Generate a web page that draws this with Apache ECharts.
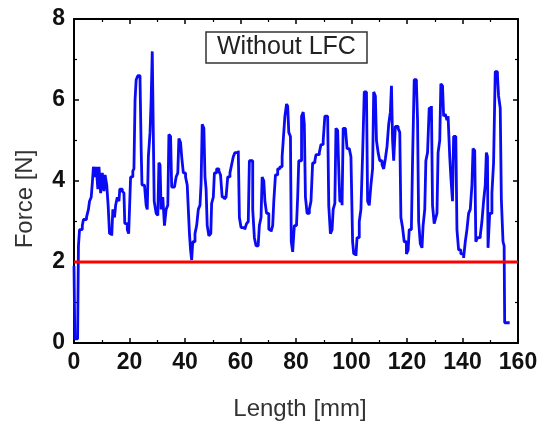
<!DOCTYPE html>
<html>
<head>
<meta charset="utf-8">
<script src="https://cdn.jsdelivr.net/npm/echarts@6/dist/echarts.min.js"></script>
<style>
html,body{margin:0;padding:0;background:#fff;}
#chart{width:539px;height:421px;}
</style>
</head>
<body>
<div id="chart"></div>
<script>
// Length positions (mm) of the measured force trace
const lengthMm = [
  0, 0.3, 1.3, 1.6, 2.0, 3.0, 3.4, 4.5, 5.2, 5.6, 6.2, 6.6, 7.0, 7.6, 8.0, 8.6, 9.0, 9.6, 10.2, 10.8,
  11.2, 11.8, 12.3, 12.8, 13.6, 14.0, 14.6, 15.0, 15.6, 16.2, 16.5, 17.4, 18.0, 18.3, 19.2, 19.7, 20.0, 20.4, 21.2, 21.6,
  22.0, 22.4, 23.0, 23.8, 24.2, 24.5, 25.4, 26.0, 26.4, 26.8, 27.4, 27.8, 28.2, 28.6, 28.9, 29.6, 30.2, 30.6, 31.0, 31.4,
  32.0, 32.6, 33.2, 33.8, 34.2, 34.8, 35.2, 36.2, 36.8, 37.4, 37.8, 38.4, 38.8, 39.4, 40.2, 40.8, 41.2, 41.6, 42.0, 42.4,
  42.8, 43.6, 44.2, 44.8, 45.4, 45.8, 46.2, 46.8, 47.2, 47.6, 48.0, 48.6, 49.3, 49.6, 50.2, 50.6, 51.4, 52.2, 52.8, 53.4,
  54.2, 54.8, 55.4, 56.2, 56.8, 57.4, 58.0, 59.2, 59.6, 60.2, 61.5, 62.2, 62.8, 63.2, 63.8, 64.4, 65.0, 65.6, 66.4, 66.8,
  67.4, 67.8, 68.4, 68.8, 69.4, 70.2, 71.0, 71.6, 72.0, 72.6, 73.4, 74.2, 75.0, 75.4, 76.0, 76.6, 77.0, 77.4, 78.0, 78.3,
  78.8, 79.4, 80.2, 80.6, 81.0, 81.6, 82.0, 82.6, 83.0, 83.4, 84.0, 84.8, 85.4, 86.0, 86.8, 87.2, 88.4, 89.0, 89.8, 90.4,
  91.4, 91.8, 92.4, 93.0, 93.4, 94.0, 94.4, 95.0, 95.4, 95.8, 96.6, 97.0, 97.8, 98.4, 99.2, 99.8, 100.4, 100.8, 101.6, 102.0,
  102.8, 103.4, 104.0, 104.6, 105.4, 105.8, 106.4, 107.0, 107.6, 108.0, 108.6, 109.0, 109.6, 110.2, 111.0, 111.6, 112.2, 112.8, 113.4, 114.0,
  114.4, 114.8, 115.2, 115.8, 116.8, 117.4, 117.8, 118.4, 119.0, 119.8, 120.4, 120.8, 121.6, 122.0, 122.6, 123.4, 123.8, 124.2, 124.8, 125.4,
  125.8, 126.4, 126.8, 127.4, 128.0, 128.8, 129.2, 129.8, 130.4, 130.8, 131.2, 131.8, 132.2, 132.8, 133.2, 133.8, 134.4, 134.8, 135.4, 135.8,
  136.4, 136.8, 137.6, 138.0, 138.6, 139.4, 140.4, 141.0, 141.6, 142.2, 142.8, 143.4, 143.8, 144.4, 144.8, 145.4, 146.4, 147.0, 147.6, 148.2,
  148.6, 149.0, 149.2, 149.8, 150.6, 151.2, 151.8, 152.6, 153.0, 153.6, 154.0, 154.6, 155.0, 155.2, 157.0
];
// Force values (N)
const forceN = [
  1.9, 0.1, 0.1, 2.4, 2.8, 2.9, 3.05, 3.1, 3.3, 3.5, 3.6, 3.95, 4.35, 4.1, 4.35, 3.8, 4.35, 3.7, 4.2, 3.75,
  4.15, 3.9, 3.4, 2.7, 2.65, 3.3, 3.1, 3.4, 3.6, 3.5, 3.8, 3.75, 3.7, 2.95, 2.8, 2.7, 3.3, 4.1, 4.25, 4.3,
  6.0, 6.5, 6.6, 6.5, 4.8, 3.9, 3.9, 3.4, 3.3, 4.6, 5.2, 6.0, 7.2, 7.2, 3.5, 3.2, 3.15, 4.45, 4.4, 3.3,
  3.6, 2.9, 3.3, 3.4, 5.15, 5.1, 3.85, 3.85, 4.1, 4.2, 5.05, 4.95, 4.6, 4.2, 4.1, 3.9, 3.3, 2.7, 2.3, 2.05,
  2.5, 2.7, 2.9, 3.3, 3.4, 3.95, 5.4, 5.3, 4.1, 3.8, 2.9, 2.65, 2.7, 3.45, 3.6, 4.2, 4.3, 4.25, 4.15, 3.6,
  3.55, 3.6, 4.1, 4.2, 4.4, 4.6, 4.7, 4.75, 3.1, 2.85, 2.8, 2.95, 3.0, 4.5, 4.5, 3.3, 2.6, 2.4, 2.45, 2.9,
  3.1, 4.1, 4.0, 3.5, 3.2, 2.8, 2.75, 2.9, 3.5, 4.15, 4.3, 4.35, 4.6, 5.0, 5.6, 5.9, 5.85, 5.2, 5.1, 2.5,
  2.25, 2.9, 2.95, 3.6, 4.5, 4.5, 5.6, 5.7, 5.4, 3.6, 3.2, 3.3, 3.5, 4.45, 4.5, 4.65, 4.7, 4.9, 5.0, 5.6,
  5.6, 3.4, 2.7, 2.8, 3.3, 3.45, 5.3, 5.25, 4.3, 3.5, 3.4, 5.3, 5.3, 4.8, 4.8, 4.6, 2.5, 2.2, 2.15, 2.6,
  3.0, 3.3, 4.65, 6.2, 6.15, 3.5, 3.4, 3.9, 4.3, 6.2, 6.1, 5.0, 4.7, 4.5, 4.4, 4.3, 4.55, 4.85, 5.4, 5.7,
  6.35, 5.0, 4.5, 5.35, 5.3, 5.2, 3.1, 2.85, 2.5, 2.2, 2.3, 2.8, 2.9, 4.5, 6.5, 6.4, 5.5, 3.0, 2.45, 2.35,
  2.9, 3.3, 4.5, 4.7, 5.8, 5.85, 3.4, 2.95, 3.1, 3.2, 4.7, 5.0, 6.4, 6.35, 5.6, 5.65, 5.5, 5.6, 4.6, 4.1,
  3.5, 5.1, 5.05, 2.8, 2.3, 2.2, 2.1, 2.5, 2.8, 3.2, 3.3, 3.9, 4.8, 4.75, 2.5, 2.6, 2.65, 3.0, 3.5, 3.9,
  4.7, 4.6, 2.35, 3.2, 3.7, 4.45, 6.7, 6.6, 6.1, 5.8, 3.55, 2.5, 2.4, 0.5, 0.5
];
// Reference threshold line
const thresholdX = [0, 160];
const thresholdY = [2, 2];
const xTicks = [0, 20, 40, 60, 80, 100, 120, 140, 160];
const yTicks = [0, 2, 4, 6, 8];
const titleText = 'Without LFC';
const xName = 'Length [mm]';
const yName = 'Force [N]';

const traceData = lengthMm.map((x, i) => [x, forceN[i]]);
const threshData = thresholdX.map((x, i) => [x, thresholdY[i]]);

const chart = echarts.init(document.getElementById('chart'), null, {renderer: 'canvas'});
const fontFam = '"Liberation Sans", Arial, sans-serif';
const axisLine = {show: true, onZero: false, lineStyle: {color: '#000', width: 2}};
const tick = {show: true, inside: true, length: 5, lineStyle: {color: '#000', width: 1.5}};
const minor = {show: true, splitNumber: 2, length: 3, lineStyle: {color: '#000', width: 1.2}};

chart.setOption({
  animation: false,
  backgroundColor: '#fff',
  title: {
    text: titleText,
    left: 206, top: 32,
    padding: [3, 11, 3, 11],
    borderColor: '#333', borderWidth: 1.5,
    textStyle: {fontFamily: fontFam, fontSize: 25, fontWeight: 'normal', color: '#222'}
  },
  grid: {left: 74, right: 21, top: 19, bottom: 78, containLabel: false, outerBoundsMode: 'none'},
  xAxis: [{
    type: 'value', min: xTicks[0], max: xTicks[xTicks.length - 1], interval: 20,
    position: 'bottom',
    name: xName, nameLocation: 'middle', nameGap: 54,
    nameTextStyle: {fontFamily: fontFam, fontSize: 24, color: '#333', padding: [0, 0, 0, 8]},
    axisLine: axisLine, axisTick: tick, minorTick: minor,
    axisLabel: {fontFamily: fontFam, fontSize: 23, fontWeight: 'bold', color: '#111', margin: 8},
    splitLine: {show: false}
  }, {
    type: 'value', min: xTicks[0], max: xTicks[xTicks.length - 1], interval: 20,
    position: 'top',
    axisLine: axisLine, axisTick: tick, minorTick: minor,
    axisLabel: {show: false}, splitLine: {show: false}
  }],
  yAxis: [{
    type: 'value', min: yTicks[0], max: yTicks[yTicks.length - 1], interval: 2,
    position: 'left',
    name: yName, nameLocation: 'middle', nameGap: 37, nameRotate: 90,
    nameTextStyle: {fontFamily: fontFam, fontSize: 24, color: '#333', padding: [0, 36, 0, 0]},
    axisLine: axisLine, axisTick: tick, minorTick: minor,
    axisLabel: {fontFamily: fontFam, fontSize: 23, fontWeight: 'bold', color: '#111', margin: 9},
    splitLine: {show: false}
  }, {
    type: 'value', min: yTicks[0], max: yTicks[yTicks.length - 1], interval: 2,
    position: 'right',
    axisLine: axisLine, axisTick: tick, minorTick: minor,
    axisLabel: {show: false}, splitLine: {show: false}
  }],
  series: [{
    type: 'line',
    data: traceData,
    xAxisIndex: 0, yAxisIndex: 0,
    step: 'end',
    showSymbol: false, symbol: 'none',
    lineStyle: {color: '#0a0af5', width: 2.8},
    z: 2
  }, {
    type: 'line',
    data: threshData,
    xAxisIndex: 0, yAxisIndex: 0,
    showSymbol: false, symbol: 'none',
    lineStyle: {color: '#ff0000', width: 3},
    z: 3
  }]
});
</script>
</body>
</html>
